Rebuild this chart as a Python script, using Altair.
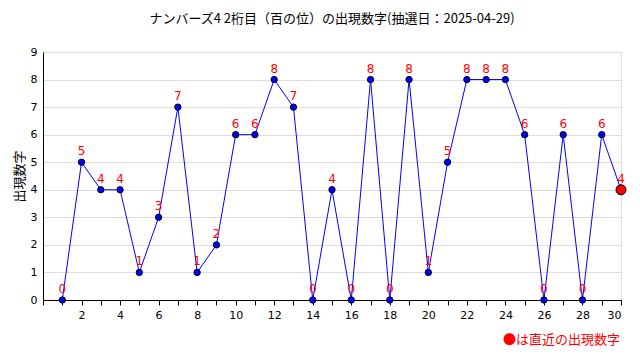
import altair as alt
import pandas as pd

draws = list(range(1, 31))
digits = [0, 5, 4, 4, 1, 3, 7, 1, 2, 6, 6, 8, 7, 0, 4, 0, 8, 0, 8, 1, 5, 8, 8, 8, 6, 0, 6, 0, 6, 4]
title_text = "ナンバーズ4 2桁目（百の位）の出現数字(抽選日：2025-04-29)"
y_title = "出現数字"
legend_text = "●は直近の出現数字"

df = pd.DataFrame({"n": draws, "d": digits})
df["latest"] = df["n"] == df["n"].max()

FONT = "Noto Sans CJK JP"

x = alt.X("n:Q", scale=alt.Scale(domain=[0, 30], nice=False),
          axis=alt.Axis(values=list(range(0, 31)), grid=False, title=None,
                        labelExpr="datum.value % 2 == 0 && datum.value > 0 ? datum.label : ''",
                        tickColor="black", domainColor="black", tickSize=5,
                        labelColor="black", labelFontSize=11, labelFont="DejaVu Sans",
                        labelPadding=4))
y = alt.Y("d:Q", scale=alt.Scale(domain=[0, 9], nice=False),
          axis=alt.Axis(values=list(range(0, 10)), grid=True, gridColor="#dddddd",
                        title=y_title, titleFont=FONT, titleFontSize=13,
                        titleFontWeight="normal", titleColor="black", titlePadding=4,
                        ticks=False, domainColor="black", labelColor="black",
                        labelFontSize=11, labelFont="DejaVu Sans", labelPadding=6))

line = alt.Chart(df).mark_line(color="#0000ff", strokeWidth=1).encode(x=x, y=y)
pts = alt.Chart(df).transform_filter("!datum.latest").mark_point(
    filled=True, fill="#0000ff", stroke="black", strokeWidth=1, size=40, opacity=1
).encode(x=x, y=y)
last = alt.Chart(df).transform_filter("datum.latest").mark_point(
    filled=True, fill="#ff0000", stroke="black", strokeWidth=1, size=100, opacity=1
).encode(x=x, y=y)
labels = alt.Chart(df).mark_text(color="#ff0000", fontSize=12, dy=-11,
                                 font="DejaVu Sans").encode(x=x, y=y, text="d:Q")
legend = alt.Chart(df).transform_filter("datum.latest").mark_text(
    color="#ff0000", fontSize=13, align="right", baseline="middle", font=FONT
).encode(x=alt.value(577), y=alt.value(288), text=alt.value(legend_text))

chart = alt.layer(line, pts, last, labels, legend).properties(
    width=578, height=248,
    autosize=alt.AutoSizeParams(type="none"),
    padding={"left": 35, "top": 44, "right": 11, "bottom": 52},
    title=alt.TitleParams(title_text, font=FONT, fontSize=13, fontWeight="normal",
                          color="black", anchor="middle", offset=20),
).configure_view(stroke=None).configure(background="white")

chart.save("out.html", embed_options={"renderer": "svg", "actions": False})
